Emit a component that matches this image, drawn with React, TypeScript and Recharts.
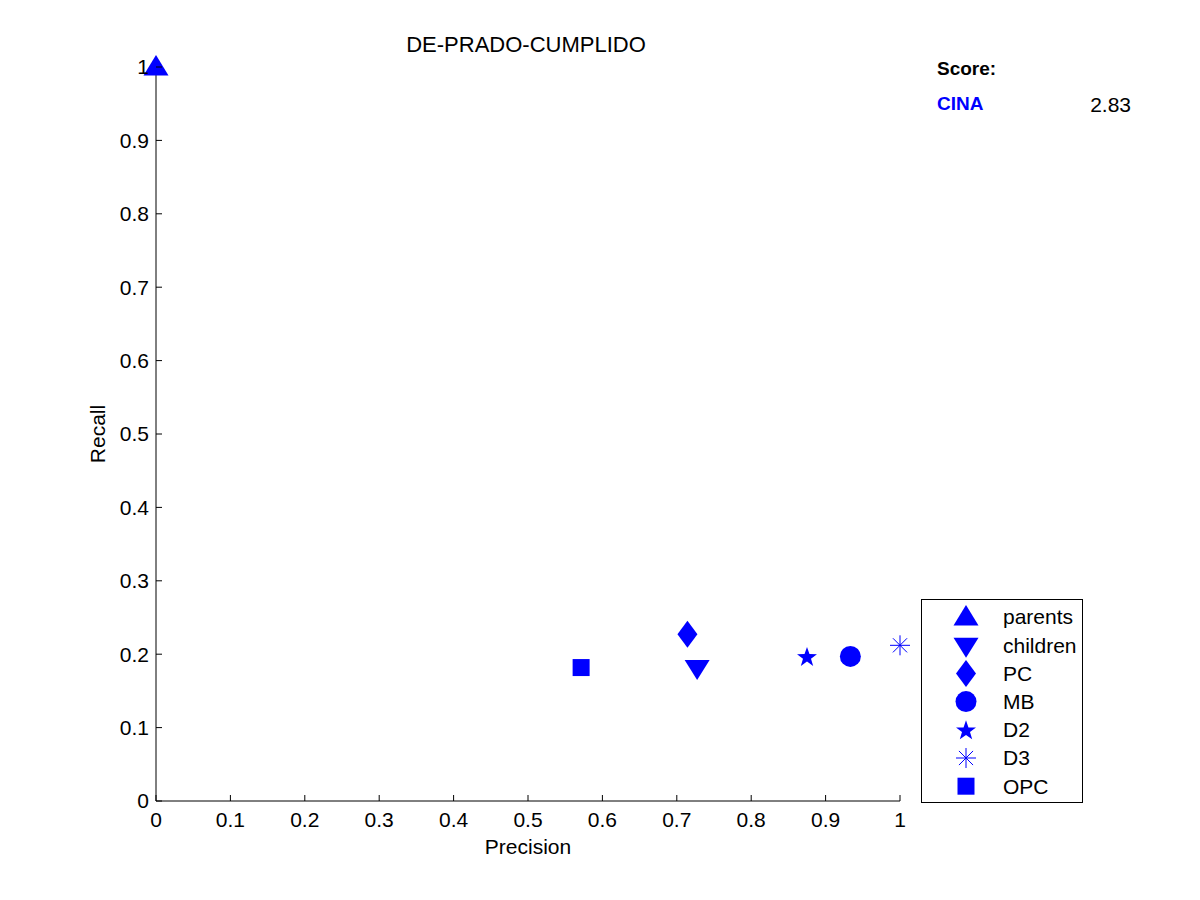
import React from 'react';
import { ScatterChart, Scatter, XAxis, YAxis, Legend } from 'recharts';

const methods = ['parents', 'children', 'PC', 'MB', 'D2', 'D3', 'OPC'];
const precision = [0, 0.7273, 0.7143, 0.9333, 0.875, 1, 0.5714];
const recall = [1, 0.1818, 0.2273, 0.197, 0.197, 0.2121, 0.1818];
const tickValues = [0, 0.1, 0.2, 0.3, 0.4, 0.5, 0.6, 0.7, 0.8, 0.9, 1];
const tickLabels = ['0', '0.1', '0.2', '0.3', '0.4', '0.5', '0.6', '0.7', '0.8', '0.9', '1'];
const titleText = 'DE-PRADO-CUMPLIDO';
const scoreHeader = 'Score:';
const scoreName = 'CINA';
const scoreValue = '2.83';

const BLUE = '#0000ff';
const FONT = '"Liberation Sans", Arial, Helvetica, sans-serif';
const FS = 21;

function Marker({ kind, cx, cy }: { kind: string; cx: number; cy: number }) {
  switch (kind) {
    case 'parents':
      return <polygon points={`${cx},${cy - 12} ${cx - 12.5},${cy + 8.5} ${cx + 12.5},${cy + 8.5}`} fill={BLUE} />;
    case 'children':
      return <polygon points={`${cx},${cy + 12.5} ${cx - 12.5},${cy - 7.5} ${cx + 12.5},${cy - 7.5}`} fill={BLUE} />;
    case 'PC':
      return <polygon points={`${cx},${cy - 13.5} ${cx + 10},${cy} ${cx},${cy + 13.5} ${cx - 10},${cy}`} fill={BLUE} />;
    case 'MB':
      return <circle cx={cx} cy={cy} r={10.5} fill={BLUE} />;
    case 'D2': {
      const pts: string[] = [];
      for (let i = 0; i < 10; i++) {
        const r = i % 2 === 0 ? 10.5 : 4.2;
        const a = -Math.PI / 2 + (i * Math.PI) / 5;
        pts.push(`${cx + r * Math.cos(a)},${cy + 1 + r * Math.sin(a)}`);
      }
      return <polygon points={pts.join(' ')} fill={BLUE} />;
    }
    case 'D3': {
      const r = 10;
      const d = r * 0.7071;
      return (
        <g stroke={BLUE} strokeWidth={1}>
          <line x1={cx - r} y1={cy} x2={cx + r} y2={cy} />
          <line x1={cx} y1={cy - r} x2={cx} y2={cy + r} />
          <line x1={cx - d} y1={cy - d} x2={cx + d} y2={cy + d} />
          <line x1={cx - d} y1={cy + d} x2={cx + d} y2={cy - d} />
        </g>
      );
    }
    case 'OPC':
      return <rect x={cx - 8.5} y={cy - 8.5} width={17} height={17} fill={BLUE} />;
    default:
      return null;
  }
}

const X_GAP = 11;
const Y_GAP = 7;
const TICK_LEN = 6;

const labelFor = (v: number) => {
  const i = tickValues.findIndex((t) => Math.abs(t - v) < 1e-9);
  return i >= 0 ? tickLabels[i] : String(v);
};

const XTick = (props: any) => {
  const { x, y, payload } = props;
  return (
    <g>
      <line x1={x} x2={x} y1={y - X_GAP} y2={y - X_GAP - TICK_LEN} stroke="#000" strokeWidth={1} />
      <text x={x} y={y} dy="0.71em" textAnchor="middle" fontFamily={FONT} fontSize={FS} fill="#000">
        {labelFor(payload.value)}
      </text>
    </g>
  );
};

const YTick = (props: any) => {
  const { x, y, payload } = props;
  return (
    <g>
      <line x1={x + Y_GAP} x2={x + Y_GAP + TICK_LEN} y1={y} y2={y} stroke="#000" strokeWidth={1} />
      <text x={x} y={y} dy="0.355em" textAnchor="end" fontFamily={FONT} fontSize={FS} fill="#000">
        {labelFor(payload.value)}
      </text>
    </g>
  );
};

const LegendBox = () => {
  const w = 162;
  const h = 204;
  const rowH = 28.2;
  return (
    <svg width={w} height={h} style={{ display: 'block' }}>
      <rect x={0.5} y={0.5} width={w - 1} height={h - 1} fill="#fff" stroke="#000" strokeWidth={1} />
      {methods.map((m, i) => {
        const cy = 18 + i * rowH;
        return (
          <g key={m}>
            <Marker kind={m} cx={45} cy={cy} />
            <text x={82} y={cy} dy="0.355em" fontFamily={FONT} fontSize={FS} fill="#000">
              {m}
            </text>
          </g>
        );
      })}
    </svg>
  );
};

export default function App() {
  return (
    <div style={{ position: 'absolute', left: 0, top: 0, width: 1200, height: 900, background: '#fff' }}>
      <ScatterChart
        width={1200}
        height={900}
        margin={{ top: 67, right: 300, bottom: 39, left: 86 }}
      >
        <XAxis
          type="number"
          dataKey="x"
          domain={[0, 1]}
          ticks={tickValues}
          interval={0}
          tickSize={0}
          tickMargin={X_GAP}
          tickLine={false}
          axisLine={{ stroke: '#000', strokeWidth: 1 }}
          tick={XTick}
          height={60}
          label={(p: any) => {
            const vb = p.viewBox || {};
            return (
              <text x={vb.x + vb.width / 2} y={vb.y + 53} textAnchor="middle" fontFamily={FONT} fontSize={FS} fill="#000">
                Precision
              </text>
            );
          }}
        />
        <YAxis
          type="number"
          dataKey="y"
          domain={[0, 1]}
          ticks={tickValues}
          interval={0}
          tickSize={0}
          tickMargin={Y_GAP}
          tickLine={false}
          axisLine={{ stroke: '#000', strokeWidth: 1 }}
          tick={YTick}
          width={70}
          label={(p: any) => {
            const vb = p.viewBox || {};
            const lx = vb.x + 19;
            const ly = vb.y + vb.height / 2;
            return (
              <text x={lx} y={ly} transform={`rotate(-90 ${lx} ${ly})`} textAnchor="middle" fontFamily={FONT} fontSize={FS} fill="#000">
                Recall
              </text>
            );
          }}
        />
        <Legend
          layout="vertical"
          align="center"
          verticalAlign="middle"
          wrapperStyle={{ left: 921, top: 599, width: 162, height: 204 }}
          content={() => <LegendBox />}
        />
        {methods.map((m, i) => (
          <Scatter
            key={m}
            name={m}
            data={[{ x: precision[i], y: recall[i] }]}
            fill={BLUE}
            isAnimationActive={false}
            shape={(p: any) => <Marker kind={m} cx={p.cx} cy={p.cy} />}
          />
        ))}
      </ScatterChart>
      <svg width={1200} height={900} style={{ position: 'absolute', left: 0, top: 0, pointerEvents: 'none' }}>
        <text x={526} y={52} textAnchor="middle" fontFamily={FONT} fontSize={22} fill="#000">
          {titleText}
        </text>
        <text x={937} y={75} fontFamily={FONT} fontSize={19} fontWeight="bold" fill="#000">
          {scoreHeader}
        </text>
        <text x={937} y={110} fontFamily={FONT} fontSize={19} fontWeight="bold" fill={BLUE}>
          {scoreName}
        </text>
        <text x={1131} y={112} textAnchor="end" fontFamily={FONT} fontSize={FS} fill="#000">
          {scoreValue}
        </text>
      </svg>
    </div>
  );
}
